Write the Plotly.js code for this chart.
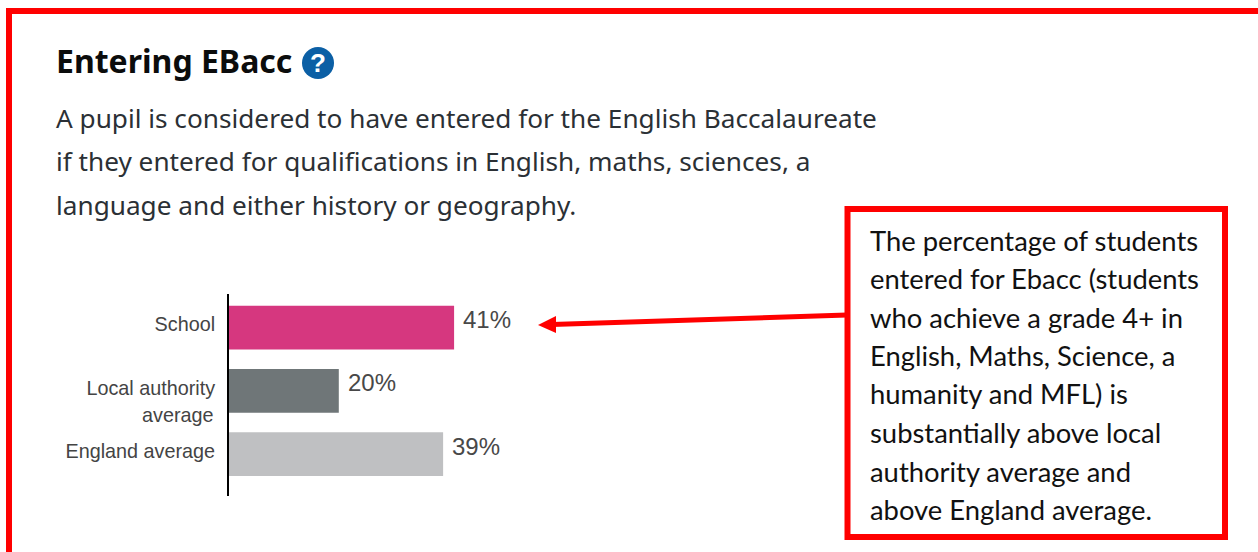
<!DOCTYPE html>
<html><head><meta charset="utf-8">
<script src="https://cdn.plot.ly/plotly-3.0.1.min.js"></script>
<style>html,body{margin:0;padding:0;background:#fff;overflow:hidden}#c{width:1258px;height:552px}</style>
</head><body><div id="c"></div>
<script>
var categories = ['School', 'Local authority average', 'England average'];
var tickLabels = ['School', 'Local authority', 'England average'];
var tickSecondLine = 'average';
var values = [41, 20, 39];
var barColors = ['#d6377f', '#6f7678', '#bfc0c2'];
var chartTitle = 'Entering EBacc';
var introLines = [
  'A pupil is considered to have entered for the English Baccalaureate',
  'if they entered for qualifications in English, maths, sciences, a',
  'language and either history or geography.'
];
var noteLines = [
  'The percentage of students',
  'entered for Ebacc (students',
  'who achieve a grade 4+ in',
  'English, Maths, Science, a',
  'humanity and MFL) is',
  'substantially above local',
  'authority average and',
  'above England average.'
];

var W = 1258, H = 552, L = 229, R = 778, T = 294, B = 496;
function px(x){ return (x - L) / (R - L); }
function py(y){ return (B - y) / (B - T); }

var annotations = [];
values.forEach(function(v, i){
  annotations.push({xref:'x', yref:'y', x:v, y:categories[i], text:v + '%', showarrow:false,
    xanchor:'left', yanchor:'middle', xshift:7, yshift:8,
    font:{family:'Liberation Sans', size:24, color:'#484848'}});
});
annotations.push({xref:'paper', yref:'paper', x:px(214), y:py(415), text:tickSecondLine, showarrow:false,
  xanchor:'right', yanchor:'middle', xshift:2,
  font:{family:'Liberation Sans', size:19.8, color:'#444444'}});
var introY = [118, 161, 204.5];
introLines.forEach(function(t, i){
  annotations.push({xref:'paper', yref:'paper', x:px(57), y:py(introY[i]), text:t, showarrow:false,
    xanchor:'left', yanchor:'middle', xshift:-3,
    font:{family:'Noto Sans', size:26.2, color:'#2b3035'}});
});
var noteY = [240, 278, 317, 355, 393, 432, 471, 509];
noteLines.forEach(function(t, i){
  annotations.push({xref:'paper', yref:'paper', x:px(870), y:py(noteY[i]), text:t, showarrow:false,
    xanchor:'left', yanchor:'middle', xshift:-2,
    font:{family:'Lato', size:27.4, color:'#111111'}});
});
annotations.push({xref:'paper', yref:'paper', x:px(318), y:py(63), text:'<b>?</b>', showarrow:false,
  xanchor:'center', yanchor:'middle', font:{family:'Liberation Sans', size:26, color:'#ffffff'}});

var shapes = [
  {type:'path', xref:'paper', yref:'paper',
   path:'M '+px(1270)+' '+py(11)+' L '+px(9)+' '+py(11)+' L '+px(9)+' '+py(565),
   line:{color:'#ff0000', width:6}, fillcolor:'rgba(0,0,0,0)'},
  {type:'rect', xref:'paper', yref:'paper', x0:px(847.5), x1:px(1225), y0:py(209), y1:py(537),
   line:{color:'#ff0000', width:6}, fillcolor:'#ffffff'},
  {type:'line', xref:'paper', yref:'paper', x0:px(847), y0:py(315), x1:px(552), y1:py(324.5),
   line:{color:'#ff0000', width:5}},
  {type:'path', xref:'paper', yref:'paper',
   path:'M '+px(538)+' '+py(325)+' L '+px(556)+' '+py(316)+' L '+px(556)+' '+py(333)+' Z',
   line:{color:'#ff0000', width:0}, fillcolor:'#ff0000'},
  {type:'circle', xref:'paper', yref:'paper', x0:px(302), x1:px(334), y0:py(47), y1:py(79),
   line:{width:0}, fillcolor:'#0b5fa5'}
];

var trace = {
  type:'bar', orientation:'h', x:values, y:categories, width:0.69,
  marker:{color:barColors, line:{width:0}}, hoverinfo:'x+y'
};
var layout = {
  width:W, height:H, paper_bgcolor:'#ffffff', plot_bgcolor:'#ffffff', showlegend:false,
  margin:{l:L, r:W-R, t:T, b:H-B, pad:0},
  title:{text:'<b>'+chartTitle+'</b>', xref:'container', yref:'container', x:56/W, xanchor:'left',
    y:1-62/H, yanchor:'middle', font:{family:'Noto Sans', size:32, color:'#0b0c0c'}},
  xaxis:{range:[0, 100], visible:false, fixedrange:true},
  yaxis:{type:'category', categoryorder:'array', categoryarray:categories,
    tickmode:'array', tickvals:categories, ticktext:tickLabels, ticklabelshift:3,
    range:[2.66, -0.53], showgrid:false, zeroline:false, showline:true, linecolor:'#000000', linewidth:2,
    ticks:'', ticklabelstandoff:8, fixedrange:true,
    tickfont:{family:'Liberation Sans', size:19.8, color:'#444444'}},
  annotations:annotations, shapes:shapes
};
Plotly.newPlot('c', [trace], layout, {displayModeBar:false, responsive:false});
</script></body></html>
